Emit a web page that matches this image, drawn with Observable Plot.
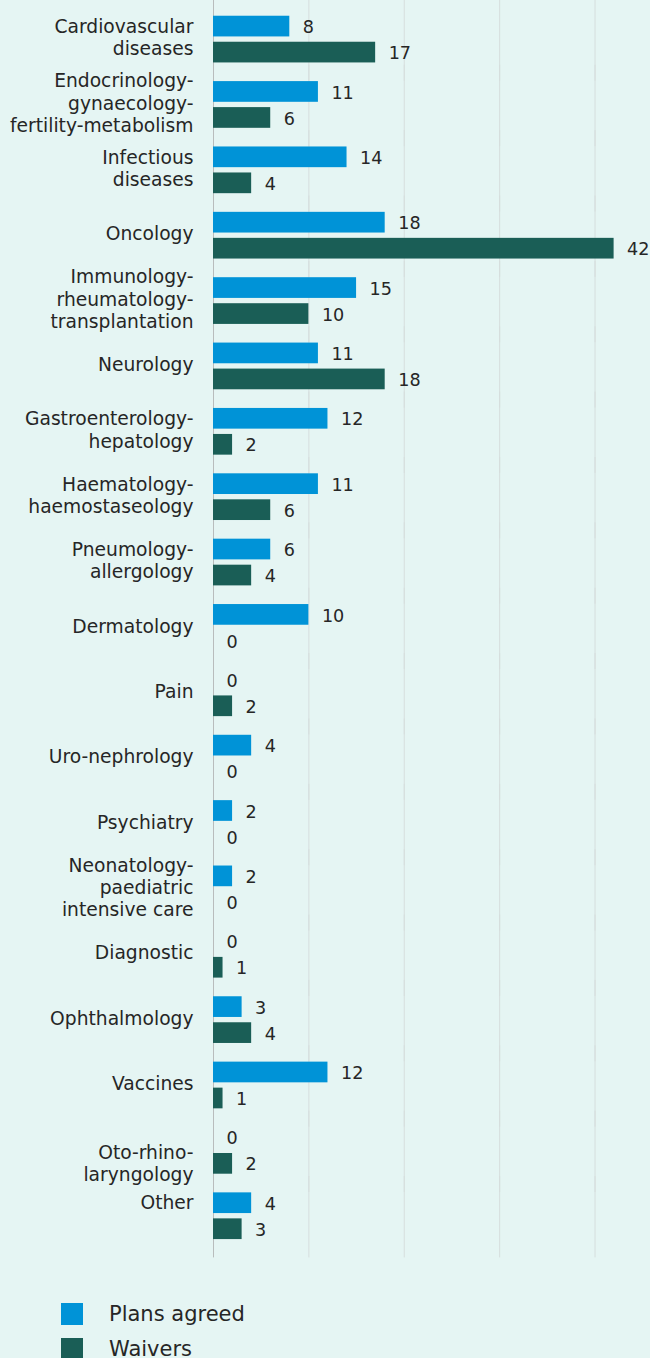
<!DOCTYPE html>
<html><head><meta charset="utf-8">
<script src="https://cdn.jsdelivr.net/npm/d3@7"></script>
<script src="https://cdn.jsdelivr.net/npm/@observablehq/plot@0.6"></script>
<style>
html,body{margin:0;padding:0;background:#e5f5f3;}
body{width:650px;height:1358px;overflow:hidden;font-family:"DejaVu Sans",Verdana,sans-serif;color:#262626;}
#chart svg{display:block;}
#legend{margin-top:45px;}
.row{display:flex;align-items:center;height:22px;margin-bottom:13px;}
.sw{width:22px;height:22px;margin-left:61px;margin-right:26px;flex:none;}
.lbl{font-size:21px;line-height:22px;}
</style></head><body>
<div id="chart"></div>
<div id="legend"></div>
<script>
const categories = [
  "Cardiovascular\ndiseases",
  "Endocrinology-\ngynaecology-\nfertility-metabolism",
  "Infectious\ndiseases",
  "Oncology",
  "Immunology-\nrheumatology-\ntransplantation",
  "Neurology",
  "Gastroenterology-\nhepatology",
  "Haematology-\nhaemostaseology",
  "Pneumology-\nallergology",
  "Dermatology",
  "Pain",
  "Uro-nephrology",
  "Psychiatry",
  "Neonatology-\npaediatric\nintensive care",
  "Diagnostic",
  "Ophthalmology",
  "Vaccines",
  "Oto-rhino-\nlaryngology",
  "Other"
];
const plansAgreed = [8, 11, 14, 18, 15, 11, 12, 11, 6, 10, 0, 4, 2, 2, 0, 3, 12, 0, 4];
const waivers     = [17, 6, 4, 42, 10, 18, 2, 6, 4, 0, 2, 0, 0, 0, 1, 4, 1, 2, 3];
const seriesNames = ["Plans agreed", "Waivers"];
const seriesColors = ["#0093d7", "#1a5e56"];
const gridTicks = [10, 20, 30, 40];

const rows = categories.flatMap((c, i) => [
  {category: c, series: seriesNames[0], value: plansAgreed[i]},
  {category: c, series: seriesNames[1], value: waivers[i]}
]);

// a couple of category labels sit beside one bar rather than the pair's centre
const labelAlign = {"Oto-rhino-\nlaryngology": seriesNames[1], "Other": seriesNames[0]};

const textColor = "#262626";
const fs = 18.7;
const nfs = 17.6;

const chart = Plot.plot({
  width: 650,
  height: 1258,
  marginLeft: 213,
  marginRight: 36.4,
  marginTop: 6.4,
  marginBottom: 9.6,
  style: {background: "transparent", fontFamily: "'DejaVu Sans', Verdana, sans-serif", fontSize: fs + "px", color: textColor},
  x: {domain: [0, 42], axis: null},
  y: {domain: seriesNames, axis: null, paddingInner: 0.204, paddingOuter: 0.3587, round: false},
  fy: {domain: categories, axis: null, paddingInner: 0, paddingOuter: 0, round: false},
  color: {domain: seriesNames, range: seriesColors},
  facet: {data: rows, y: "category"},
  marks: [
    Plot.ruleX(gridTicks, {stroke: "#d6dedd", strokeWidth: 1, insetTop: -7, insetBottom: -9}),
    Plot.ruleX([0], {stroke: "#b8bcbc", strokeWidth: 1, insetTop: -7, insetBottom: -9}),
    Plot.barX(rows, {x: "value", y: "series", fill: "series"}),
    Plot.text(rows, {x: "value", y: "series", text: d => String(d.value), dx: 13, dy: 1, textAnchor: "start", fill: textColor, fontSize: nfs}),
    Plot.text(rows, {filter: d => d.series === seriesNames[0] && !labelAlign[d.category], text: "category", frameAnchor: "left", dx: -20, dy: -2.5, textAnchor: "end", lineAnchor: "middle", lineHeight: 1.2, fill: textColor, fontSize: fs}),
    Plot.text(rows, {filter: d => labelAlign[d.category] === d.series, y: "series", text: "category", frameAnchor: "left", dx: -20, dy: -1, textAnchor: "end", lineAnchor: "middle", lineHeight: 1.2, fill: textColor, fontSize: fs})
  ]
});
document.getElementById("chart").appendChild(chart);

const legend = document.getElementById("legend");
seriesNames.forEach((name, i) => {
  const row = document.createElement("div");
  row.className = "row";
  const sw = document.createElement("div");
  sw.className = "sw";
  sw.style.background = seriesColors[i];
  const lbl = document.createElement("div");
  lbl.className = "lbl";
  lbl.textContent = name;
  row.appendChild(sw);
  row.appendChild(lbl);
  legend.appendChild(row);
});
</script>
</body></html>
